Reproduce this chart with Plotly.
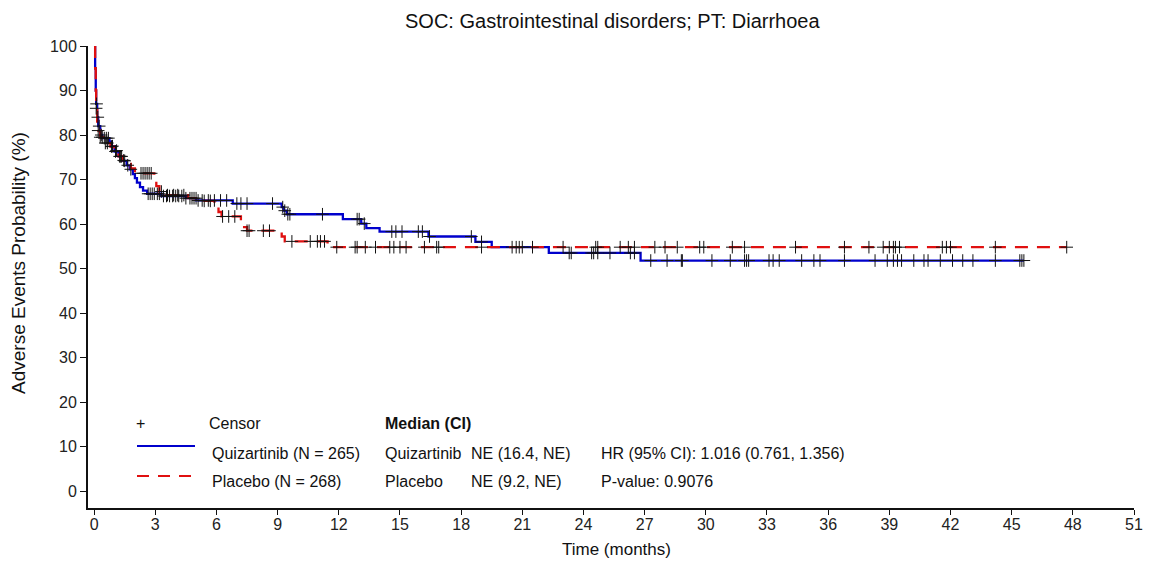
import numpy as np
import plotly.graph_objects as go

# ---------------- data ----------------
title_text = "SOC: Gastrointestinal disorders; PT: Diarrhoea"

quiz_step_t = [0, 0.05, 0.08, 0.1, 0.15, 0.2, 0.3, 0.4, 0.75, 0.85, 1.0, 1.2, 1.4, 1.6, 1.75,
               1.9, 2.0, 2.1, 2.25, 2.4, 2.6, 3.3, 4.5, 5.0, 6.8, 9.2, 9.3, 9.45, 12.2, 13.1,
               13.35, 14.0, 16.4, 18.7, 19.5, 22.3, 26.8]
quiz_step_s = [100, 95, 90, 87, 84, 82, 80, 79.3, 78.5, 77.5, 76.3, 75.2, 74.2, 73.2, 72.3,
               71.2, 70.3, 69.3, 68.3, 67.5, 66.8, 66.3, 65.8, 65.3, 64.6, 63.8, 63.0, 62.2, 61.1, 60.1,
               59.1, 58.3, 57.2, 56.0, 54.8, 53.5, 51.8]
quiz_end = 45.6
quiz_censor = [0.12, 0.18, 0.25, 0.35, 0.5, 0.6, 0.7, 0.9, 1.05, 1.25, 1.35, 1.5, 1.65, 1.8,
               2.65, 2.75, 2.85, 2.95, 3.1, 3.2, 3.4, 3.55, 3.7, 3.85, 4.0, 4.15, 4.3, 4.5,
               4.7, 4.9, 5.1, 5.3, 5.6, 5.9, 6.2, 6.5, 7.0, 7.2, 7.5, 8.75, 9.25, 9.35, 9.5,
               9.6, 11.2, 12.9, 13.0, 13.25, 14.6, 14.8, 15.1, 15.9, 16.1, 16.45, 18.5, 19.0,
               20.5, 20.7, 20.85, 21.0, 23.3, 23.4, 24.4, 24.5, 24.7, 25.3, 26.3, 26.5, 27.3,
               28.1, 28.8, 28.85, 30.3, 31.2, 31.9, 32.0, 32.1, 33.1, 33.3, 33.6, 34.7, 35.3,
               35.6, 36.8, 38.3, 38.9, 39.2, 39.4, 39.6, 40.2, 40.7, 40.9, 41.5, 42.1, 42.6,
               43.1, 44.2, 45.4, 45.5, 45.6]

plac_step_t = [0, 0.05, 0.08, 0.1, 0.15, 0.2, 0.3, 0.45, 0.8, 1.0, 1.2, 1.4, 1.6, 1.8, 2.0,
               2.95, 3.05, 3.2, 3.5, 4.6, 5.2, 5.9, 6.1, 6.25, 7.2, 7.3, 7.5, 9.2, 9.35, 11.45]
plac_step_s = [100, 95, 90, 86, 83, 81, 79.5, 78.2, 77.4, 76.5, 75.2, 74.3, 73.5, 72.5, 71.4,
               70.0, 68.5, 67.3, 66.5, 65.8, 65.2, 63.9, 62.7, 61.7, 60.3, 59.3, 58.5, 57.2, 56.1, 54.8]
plac_end = 47.7
plac_censor = [0.1, 0.2, 0.3, 0.4, 0.55, 0.65, 0.85, 1.1, 1.3, 1.45, 2.3, 2.4, 2.5, 2.6, 2.7,
               2.8, 3.3, 3.6, 3.9, 4.1, 4.4, 4.8, 5.0, 5.4, 5.7, 6.3, 6.6, 6.9, 7.5, 7.6, 8.3,
               8.6, 9.7, 10.6, 10.95, 11.1, 11.3, 11.9, 12.8, 12.9, 13.3, 13.8, 14.5, 14.7,
               15.0, 15.3, 16.2, 16.8, 16.9, 19.0, 21.5, 23.0, 24.6, 24.7, 25.8, 26.2, 26.5,
               27.5, 28.0, 28.6, 29.7, 29.9, 31.3, 31.9, 34.4, 36.8, 38.0, 38.7, 39.0, 39.2,
               39.3, 39.5, 41.6, 41.8, 42.0, 44.2, 47.7]

x_ticks = list(range(0, 52, 3))
y_ticks = list(range(0, 101, 10))

legend_names = ["Quizartinib (N = 265)", "Placebo (N = 268)"]
median_names = ["Quizartinib", "Placebo"]
median_text = ["NE (16.4, NE)", "NE (9.2, NE)"]
stats_text = ["HR (95% CI): 1.016 (0.761, 1.356)", "P-value: 0.9076"]

# ---------------- figure ----------------
OFF = 8  # page body margin offset of the plot div
W, H = 1154 - OFF, 562 - OFF
ML, MR, MT, MB = 88 - OFF, 20, 46 - OFF, 54
PW, PH = W - ML - MR, H - MT - MB
FONT = "Liberation Sans, Arial, sans-serif"
BLUE = "#0000cc"
RED = "#e01010"
TXT = "#111111"


def px(xp):
    return (xp - OFF - ML) / PW


def py(yp):
    return (H - MB - (yp - OFF)) / PH


def step_lookup(ts, ss, t):
    idx = np.searchsorted(np.asarray(ts), np.asarray(t), side="right") - 1
    return np.asarray(ss)[idx]


fig = go.Figure()

for ts, ss, end, color, dash in [
    (quiz_step_t, quiz_step_s, quiz_end, BLUE, "solid"),
    (plac_step_t, plac_step_s, plac_end, RED, "13px,9px"),
]:
    xs = list(ts) + [end]
    ys = list(ss) + [ss[-1]]
    fig.add_trace(go.Scatter(x=xs, y=ys, mode="lines", line=dict(color=color, width=2.3, dash=dash, shape="hv"),
                             showlegend=False, hoverinfo="skip"))

for ts, ss, cens in [(quiz_step_t, quiz_step_s, quiz_censor), (plac_step_t, plac_step_s, plac_censor)]:
    fig.add_trace(go.Scatter(x=cens, y=step_lookup(ts, ss, cens), mode="markers",
                             marker=dict(symbol="cross-thin", size=9, line=dict(color="#111111", width=1)),
                             showlegend=False, hoverinfo="skip"))

annotations = []
tf = dict(family=FONT, size=16, color=TXT)


def ann(text, xp, yp, anchor="left", font=None, angle=0):
    annotations.append(dict(text=text, x=px(xp), y=py(yp), xref="paper", yref="paper",
                            xanchor=anchor, yanchor="middle", showarrow=False, textangle=angle,
                            font=font or tf))


# legend block
ann("+", 140, 423, anchor="center")
ann("Censor", 207, 423)
ann("<b>Median (CI)</b>", 383, 423)
ann(legend_names[0], 210, 453)
ann(legend_names[1], 210, 481)
ann(median_names[0], 383, 453)
ann(median_names[1], 383, 481)
ann(median_text[0], 469, 453)
ann(median_text[1], 469, 481)
ann(stats_text[0], 599, 453)
ann(stats_text[1], 599, 481)

# titles
ann(title_text, 612, 21, anchor="center", font=dict(family=FONT, size=20, color=TXT))
ann("Time (months)", 616, 549, anchor="center", font=dict(family=FONT, size=17, color=TXT))
ann("Adverse Events Probability (%)", 18, 263, anchor="center", font=dict(family=FONT, size=19, color=TXT),
    angle=-90)

shapes = [
    dict(type="line", xref="paper", yref="paper", x0=px(137), x1=px(195), y0=py(446), y1=py(446),
         line=dict(color=BLUE, width=2)),
    dict(type="line", xref="paper", yref="paper", x0=px(137), x1=px(195), y0=py(476), y1=py(476),
         line=dict(color=RED, width=2, dash="12px,9px")),
]

fig.update_layout(
    width=W, height=H,
    margin=dict(l=ML, r=MR, t=MT, b=MB, pad=0),
    paper_bgcolor="white", plot_bgcolor="white",
    annotations=annotations, shapes=shapes,
    font=dict(family=FONT, size=16, color=TXT),
    xaxis=dict(range=[-0.3, 51], tickvals=x_ticks, ticks="outside", ticklen=5, tickwidth=1, tickcolor="#111",
               ticklabelstandoff=-4,
               showline=True, linecolor="#111", linewidth=2, showgrid=False, zeroline=False,
               tickfont=dict(family=FONT, size=16, color="#222")),
    yaxis=dict(range=[-3.8, 100], tickvals=y_ticks, ticks="outside", ticklen=6, tickwidth=1, tickcolor="#111",
               showline=True, linecolor="#111", linewidth=2, showgrid=False, zeroline=False,
               tickfont=dict(family=FONT, size=16, color="#222")),
)

fig.write_html("out.html")
